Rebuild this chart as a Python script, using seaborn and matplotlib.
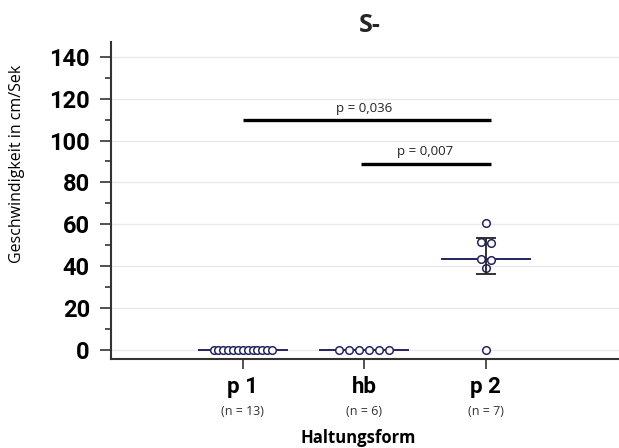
import numpy as np
import pandas as pd
import matplotlib
matplotlib.use("Agg")
import matplotlib.pyplot as plt
import seaborn as sns
from matplotlib.ticker import MultipleLocator

# Daten
groups = ["p 1", "hb", "p 2"]
n_labels = ["(n = 13)", "(n = 6)", "(n = 7)"]
p1_values = [0, 0, 0, 0, 0, 0, 0, 0, 0, 0, 0, 0, 0]
hb_values = [0, 0, 0, 0, 0, 0]
p2_values = [60.8, 51.3, 51.0, 43.5, 43.0, 39.3, 0.0]
medians = [0, 0, 43.5]
p2_err_low = 36.0
p2_err_high = 53.6
brackets = [(0, 2, 109.6, "p = 0,036"), (1, 2, 88.9, "p = 0,007")]

# Abstand der Punkte nebeneinander (je Gruppe)
steps = [0.040, 0.082, 0.082]


def spread(values, step, bin_size=4.5):
    rows = np.floor(np.asarray(values, dtype=float) / bin_size)
    offs = np.zeros(len(values))
    for r in np.unique(rows):
        idx = np.where(rows == r)[0]
        offs[idx] = (np.arange(len(idx)) - (len(idx) - 1) / 2) * step
    return offs


frames = []
for i, vals in enumerate([p1_values, hb_values, p2_values]):
    frames.append(pd.DataFrame({
        "gruppe": groups[i],
        "x": i + spread(vals, steps[i]),
        "wert": vals,
    }))
df = pd.concat(frames, ignore_index=True)

sns.set_theme(style="ticks")
plt.rcParams["font.family"] = ["Open Sans", "DejaVu Sans"]

fig = plt.figure(figsize=(6.19, 4.48), dpi=100)
ax = fig.add_axes([0.179, 0.199, 0.821, 0.707])

navy = "#25255e"

# Medianlinien
for i, m in enumerate(medians):
    ax.hlines(m, i - 0.37, i + 0.37, color=navy, lw=1.4, zorder=2)

sns.scatterplot(data=df, x="x", y="wert", ax=ax, s=30, marker="o",
                facecolor="white", edgecolor=navy, linewidth=1.1, zorder=3,
                legend=False)

# Fehlerbalken p 2
ax.errorbar(2, medians[2], yerr=[[medians[2] - p2_err_low], [p2_err_high - medians[2]]],
            fmt="none", ecolor="#222222", elinewidth=1.3, capsize=7.2, capthick=1.3,
            zorder=4)

# Signifikanzbalken
for a, b, y, txt in brackets:
    ax.hlines(y, a - (0.025 if a == 1 else 0), b + 0.04, color="black", lw=2.4, zorder=4)
    ax.annotate(txt, xy=((a + b) / 2, y), xytext=(0, 6), textcoords="offset points",
                ha="center", va="baseline", fontsize=9.5, color="#222222")

ax.set_xlim(-1.086, 3.095)
ax.set_ylim(-4.3, 147)
ax.set_yticks(np.arange(0, 141, 20))
ax.yaxis.set_minor_locator(MultipleLocator(10))
ax.grid(axis="y", which="major", color="#e9e9e9", lw=1)
ax.set_axisbelow(True)

ax.set_xticks(range(len(groups)))
ax.set_xticklabels(groups)

ax.tick_params(axis="y", which="major", length=8, width=1.2, color="#333333", pad=7,
               labelsize=17, labelcolor="black", labelfontfamily="Roboto")
ax.tick_params(axis="y", which="minor", length=4, width=1.2, color="#333333")
ax.tick_params(axis="x", which="major", length=7.5, width=1.2, color="#333333", pad=5,
               labelsize=16, labelcolor="black", labelfontfamily="Roboto")
for lab in ax.get_xticklabels() + ax.get_yticklabels():
    lab.set_fontweight("bold")

for i, t in enumerate(n_labels):
    ax.annotate(t, xy=(i, 0), xycoords=("data", "axes fraction"), xytext=(0, -38),
                textcoords="offset points", ha="center", va="center",
                fontsize=9, color="#333333")

sns.despine(ax=ax)
for s in ["left", "bottom"]:
    ax.spines[s].set_color("#333333")
    ax.spines[s].set_linewidth(1.5)

ax.set_xlabel("Haltungsform", fontsize=12, fontweight="bold", color="black")
ax.xaxis.set_label_coords(0.487, -0.222)
ax.set_ylabel("Geschwindigkeit in cm/Sek", fontsize=11.5, color="black")
ax.yaxis.set_label_coords(-0.169, 0.615)
ax.set_title("S-", fontsize=18, fontweight="bold", x=0.51, pad=7)

fig.savefig("out.png", dpi=100)
